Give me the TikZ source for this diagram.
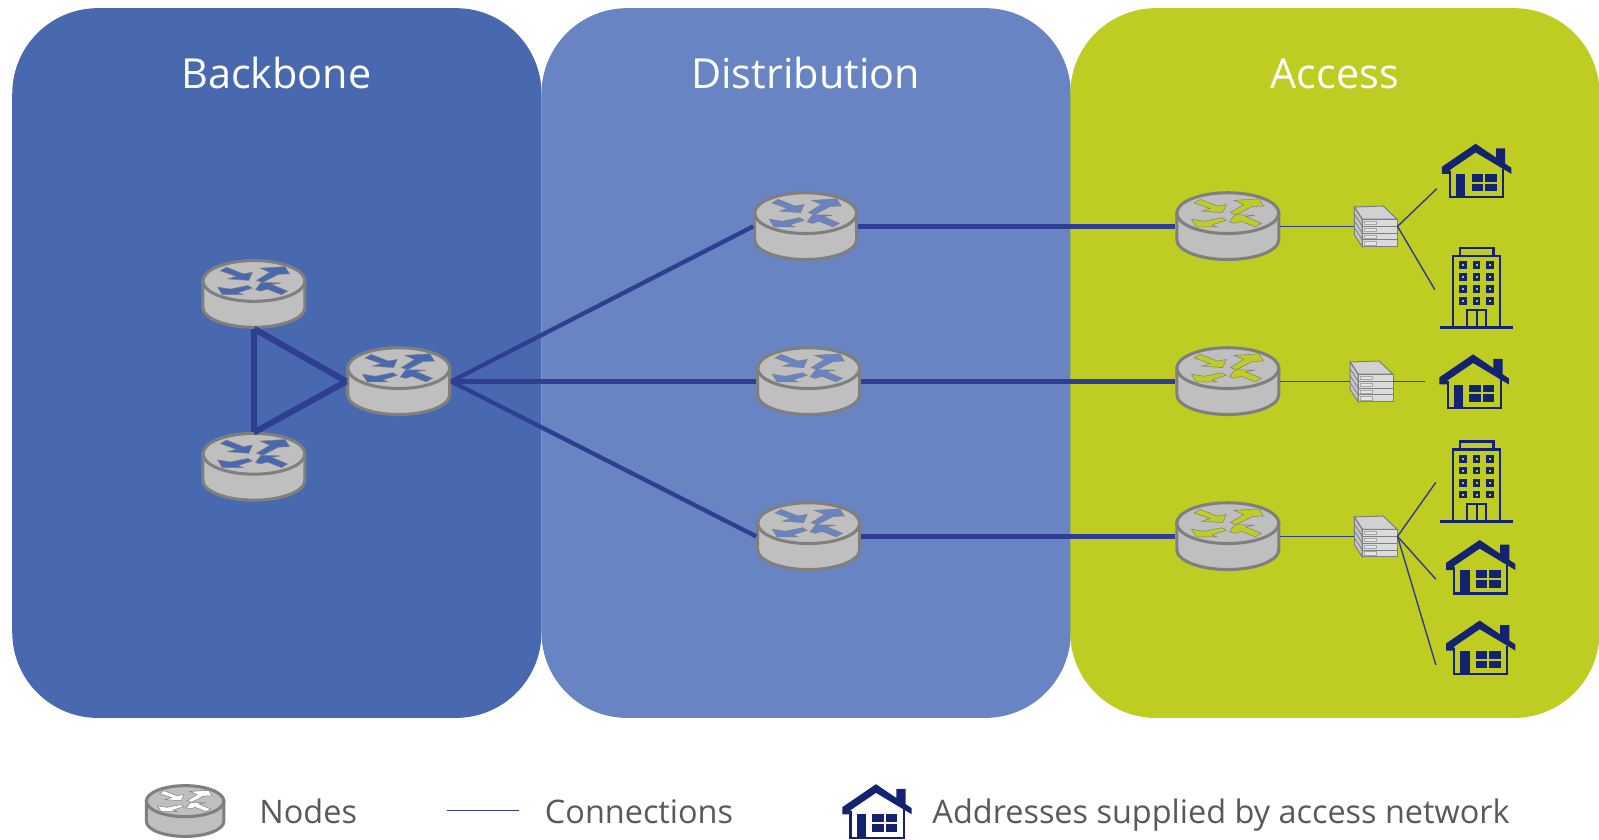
\documentclass[tikz,border=0pt]{standalone}
\usepackage{fontspec}
\setmainfont{Open Sans}
\definecolor{backboneblue}{HTML}{4869B0}
\definecolor{distblue}{HTML}{6984C2}
\definecolor{accessgreen}{HTML}{BFCD22}
\definecolor{linkblue}{HTML}{2F3E93}
\definecolor{iconnavy}{HTML}{14236F}
\definecolor{routergrey}{HTML}{BFBFBF}
\definecolor{edgegrey}{HTML}{7F7F7F}
\tikzset{
  panel/.style={rectangle, rounded corners=42pt, minimum width=259.5pt, minimum height=348pt, inner sep=0pt},
  paneltitle/.style={anchor=base, inner sep=0pt, text=white, font=\fontsize{20.3}{24}\selectfont},
  legendtext/.style={anchor=base west, inner sep=0pt, text=black!65, font=\fontsize{15.9}{20}\selectfont},
  routerbox/.style={rectangle, minimum width=51pt, minimum height=33.5pt, inner sep=0pt},
  serverbox/.style={rectangle, minimum width=21pt, minimum height=20pt, inner sep=0pt},
  iconbox/.style={rectangle, minimum width=34pt, minimum height=26pt, inner sep=0pt},
  towerbox/.style={rectangle, minimum width=35pt, minimum height=40pt, inner sep=0pt},
  trunk/.style={linkblue, line width=2.1pt},
  ring/.style={linkblue, line width=3pt},
  tail/.style={linkblue, line width=0.7pt},
}
% router: optional scale, name, position, colour of the arrows
\newcommand{\router}[4][1]{
  \begin{scope}[shift={(#3)}, scale=#1, transform shape]
    \node[routerbox] (#2) at (0,0) {};
    \draw[edgegrey, fill=routergrey, line width=1.5pt] (-50,-13) -- (-50,13) .. controls (-50,24) and (-27,32.5) .. (0,32.5) .. controls (27,32.5) and (50,24) .. (50,13) -- (50,-13) -- cycle;
    \draw[edgegrey, fill=routergrey, line width=1.5pt] (0,-13) ellipse [x radius=50, y radius=20];
    \begin{scope}[draw=edgegrey, fill=#4, line width=0.25pt]
      \filldraw (-33,-23) -- (-27,-26.5) -- (-10.5,-20) -- (-1.5,-21.5) -- (-5,-13.5) -- (-25.5,-15) -- (-17.5,-17.5) -- cycle;
      \filldraw (2.5,-13.5) -- (15.5,-21.5) -- (6,-25.5) -- (30.5,-27) -- (35,-20) -- (24,-19.5) -- (8.5,-11.5) -- cycle;
      \filldraw (-6,-8.5) -- (-1.5,-6) -- (-15.5,-1.5) -- (-10.5,0.5) -- (-31,0.5) -- (-35.6,-7) -- (-23,-5) -- cycle;
      \filldraw (1.5,-4.5) -- (7,-11.5) -- (26.5,-11) -- (17.5,-9.5) -- (33,-3) -- (27,0.5) -- (13,-5) -- (6.5,-3) -- cycle;
    \end{scope}
  \end{scope}
}
% server stack: name, position
\newcommand{\serverstack}[2]{
  \begin{scope}[shift={(#2)}]
    \node[serverbox] (#1) at (0,0) {};
    \draw[edgegrey, fill=black!18, line width=0.5pt] (-21,-19) -- (7.3,-20) -- (21,-7) -- (-13.2,-7) -- cycle;
    \draw[edgegrey, fill=black!22, line width=0.5pt] (-21,-19) -- (-13.2,-7) -- (-13.2,20) -- (-21,8) -- cycle;
    \foreach \row in {0,1,2,3} {
      \draw[edgegrey, fill=black!14, line width=0.4pt] (-13.2,-7+6.75*\row) rectangle (21,-0.25+6.75*\row);
      \draw[black!35, fill=black!10, line width=0.25pt] (-11.5,-5.2+6.75*\row) rectangle (1,-1.8+6.75*\row);
      \draw[edgegrey, line width=0.4pt] (-21,-19+6.75*\row) -- (-13.2,-7+6.75*\row);
    }
  \end{scope}
}
% house icon: name, position
\newcommand{\house}[2]{
  \begin{scope}[shift={(#2)}]
    \node[iconbox] (#1) at (0,0) {};
    \fill[iconnavy] (-34,-4) -- (-1,-26.5) -- (19,-13) -- (19,-22) -- (28,-22) -- (28,-7) -- (34,-3) -- (34,3) -- (-1,-18) -- (-26,-1) -- (-26,3) -- (-34,3) -- cycle;
    \draw[iconnavy, line width=1pt] (-26,0) -- (-26,26) -- (26,26) -- (26,-2);
    \fill[iconnavy] (-20,3.2) rectangle (-11,26.5);
    \fill[iconnavy] (-4.8,3.2) rectangle (6.5,10.8);
    \fill[iconnavy] (8.5,3.2) rectangle (19.5,10.8);
    \fill[iconnavy] (-4.8,12.8) rectangle (6.5,20.2);
    \fill[iconnavy] (8.5,12.8) rectangle (19.5,20.2);
  \end{scope}
}
% office block icon: name, position
\newcommand{\tower}[2]{
  \begin{scope}[shift={(#2)}]
    \node[towerbox] (#1) at (0,0) {};
    \draw[iconnavy, line width=1.2pt] (-23,38) -- (-23,-32) -- (23,-32) -- (23,38);
    \draw[iconnavy, line width=1.2pt] (-16.5,-32) -- (-16.5,-40) -- (16.5,-40) -- (16.5,-32);
    \draw[iconnavy, line width=1.4pt] (-35.5,38) -- (35.5,38);
    \draw[iconnavy, line width=1.1pt] (-9.5,38) -- (-9.5,21) -- (9.5,21) -- (9.5,38) (0,21) -- (0,38);
    \foreach \col in {-13.5,0,13} {
      \foreach \row in {-23,-11.5,0.5,12} {
        \draw[iconnavy, line width=1.3pt] (\col-2.3,\row-2.3) rectangle (\col+2.3,\row+2.3);
      }
    }
  \end{scope}
}
\begin{document}
\begin{tikzpicture}[x=0.5pt, y=-0.5pt]
\useasboundingbox (0,0) rectangle (1568,823);
% Panels
\node[panel, fill=backboneblue] (backbone) at (271.5,356) {};
\node[panel, fill=distblue] (distribution) at (790.5,356) {};
\node[panel, fill=accessgreen] (access) at (1309,356) {};
\node[paneltitle] (backboneTitle) at (271,87) {Backbone};
\node[paneltitle] (distributionTitle) at (790,87) {Distribution};
\node[paneltitle] (accessTitle) at (1309,87) {Access};
% Routers
\router{coreA}{249,288.5}{backboneblue}
\router{coreB}{391,374}{backboneblue}
\router{coreC}{249,458}{backboneblue}
\router{distA}{790,222}{distblue}
\router{distB}{793,374}{distblue}
\router{distC}{793,526}{distblue}
\router{accA}{1204,222}{accessgreen}
\router{accB}{1204,374}{accessgreen}
\router{accC}{1204,526}{accessgreen}
% Premises
\serverstack{srvA}{1349,222}
\serverstack{srvB}{1345,374}
\serverstack{srvC}{1349,526}
\house{homeA}{1448,167.5}
\tower{officeA}{1448,283}
\house{homeB}{1445.5,374}
\tower{officeB}{1448,473}
\house{homeC}{1452,556}
\house{homeD}{1452,635}
\coordinate (tapA) at (1409,185);
\coordinate (tapB) at (1407,284);
\coordinate (tapC) at (1397,374);
\coordinate (tapD) at (1408,473);
\coordinate (tapE) at (1408,568);
\coordinate (tapF) at (1408,652);
% Connections
\draw[ring] (coreA.south) -- (coreC.north);
\draw[ring] (coreA.south) -- (coreB.west);
\draw[ring] (coreC.north) -- (coreB.west);
\draw[trunk] (coreB.east) -- (distA.west);
\draw[trunk] (coreB.east) -- (distB.west);
\draw[trunk] (coreB.east) -- (distC.west);
\draw[trunk] (distA.east) -- (accA.west);
\draw[trunk] (distB.east) -- (accB.west);
\draw[trunk] (distC.east) -- (accC.west);
\draw[tail] (accA.east) -- (srvA.west);
\draw[tail] (accB.east) -- (srvB.west);
\draw[tail] (accC.east) -- (srvC.west);
\draw[tail] (srvA.east) -- (tapA);
\draw[tail] (srvA.east) -- (tapB);
\draw[tail] (srvB.east) -- (tapC);
\draw[tail] (srvC.east) -- (tapD);
\draw[tail] (srvC.east) -- (tapE);
\draw[tail] (srvC.east) -- (tapF);
% Legend
\router[0.76]{keyRouter}{181.5,795.5}{white}
\node[legendtext] (keyNodes) at (254,808) {Nodes};
\coordinate (keyLineA) at (438,795);
\coordinate (keyLineB) at (509,795);
\draw[tail] (keyLineA) -- (keyLineB);
\node[legendtext] (keyConnections) at (534,808) {Connections};
\house{keyHouse}{860,795.5}
\node[legendtext] (keyAddresses) at (914,808) {Addresses supplied by access network};
\end{tikzpicture}
\end{document}
